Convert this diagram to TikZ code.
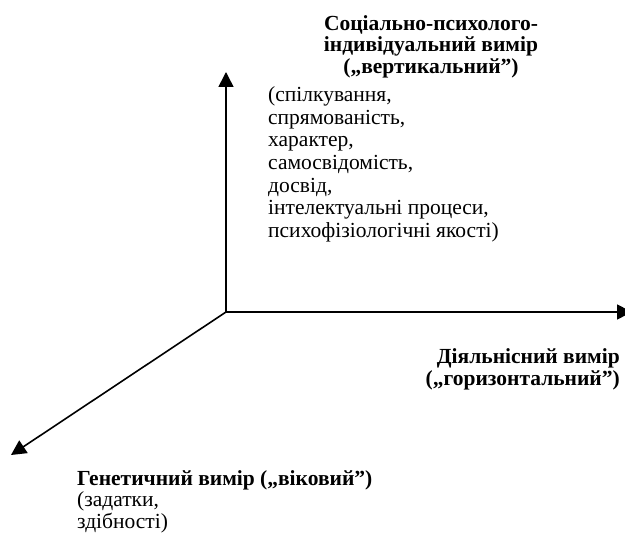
\documentclass[tikz,border=0pt]{standalone}
\usepackage{fontspec}
\setmainfont{Liberation Serif}
\usetikzlibrary{arrows.meta,positioning}
\tikzset{
    axis/.style = {line width=1.6pt, -{Triangle[length=15pt,width=15pt]}},
    lbl/.style = {inner sep=0pt, align=left, font=\fontsize{21.5}{21.8}\selectfont},
    ttl/.style = {lbl, font=\fontsize{21.5}{21.8}\selectfont\bfseries},
}

\begin{document}
\begin{tikzpicture}[x=1pt, y=-1pt]
\useasboundingbox (0,0) rectangle (625,537);

\coordinate (O) at (226,312);
\coordinate (up) at (226,72);
\coordinate (right) at (632,312);
\coordinate (down) at (11,455);

\draw[axis] (O) -- (up);
\draw[axis] (O) -- (right);
\draw[axis] (O) -- (down);

% vertical
\node[ttl, align=center, anchor=north] (vtitle) at (431,15)
    {Соціально-психолого-\\індивідуальний вимір\\(„вертикальний”)};
\node[lbl, anchor=north west, font=\fontsize{21.5}{22.6}\selectfont] (vlist) at (268,86.5)
    {(спілкування,\\спрямованість,\\характер,\\самосвідомість,\\досвід,\\інтелектуальні процеси,\\психофізіологічні якості)};

% horizontal
\node[ttl, align=right, anchor=north east] (hlabel) at (620,348.5)
    {Діяльнісний вимір\\(„горизонтальний”)};

% genetic
\node[lbl, anchor=north west, font=\fontsize{21.5}{21.3}\selectfont] (glabel) at (77,470.5)
    {\textbf{Генетичний вимір („віковий”)}\\(задатки,\\здібності)};
\end{tikzpicture}
\end{document}
